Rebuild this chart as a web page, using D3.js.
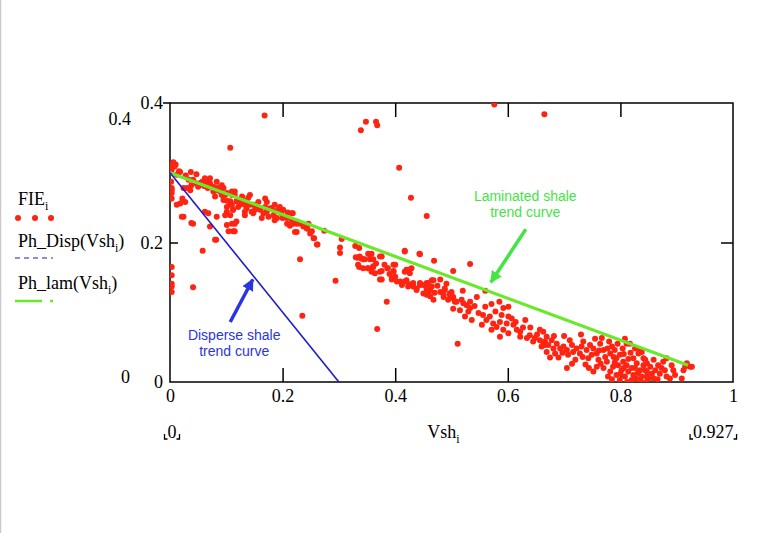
<!DOCTYPE html>
<html><head><meta charset="utf-8">
<script src="https://cdn.jsdelivr.net/npm/d3@7"></script>
<style>body{margin:0;background:#fff}svg{display:block}</style>
</head><body><svg id="c" width="768" height="533"></svg>
<script>
// ---------- data ----------
const xDomain = [0, 1];
const yDomain = [0, 0.4];
const xTicks = [0, 0.2, 0.4, 0.6, 0.8, 1];
const yTicks = [0, 0.2, 0.4];
const innerXTicks = [0.2, 0.4, 0.6, 0.8];
const innerYTicks = [0.2];
const xLimitLabels = ["0", "0.927"];
const yLimitLabels = ["0.4", "0"];
const xTitle = ["Vsh", "i"];

// FIE_i vs Vsh_i  [Vsh, FIE]
const fieData = [
 [0.168,0.382],[0.107,0.336],[0.339,0.361],[0.348,0.373],[0.366,0.373],[0.368,0.368],[0.407,0.307],[0.428,0.264],
 [0.576,0.398],[0.665,0.384],[0.456,0.238],[0.294,0.145],[0.235,0.095],[0.368,0.076],[0.511,0.055],[0.385,0.115],
 [0.231,0.176],[0.058,0.188],[0.041,0.136],[0.082,0.204],[0.038,0.228],
 [0.003,0.165],[0.003,0.153],[0.003,0.141],[0.003,0.137],[0.003,0.129],[0.003,0.311],[0.008,0.309],[0.003,0.304],
 [0.003,0.275],[0.003,0.271],[0.003,0.263],[0.002,0.287],[0.003,0.278],[0.006,0.315],[0.010,0.312],
 [0.021,0.237],[0.012,0.254],[0.018,0.256],[0.024,0.278],[0.037,0.301],[0.047,0.298],[0.018,0.301],[0.016,0.302],
 [0.024,0.237],[0.022,0.263],[0.027,0.258],[0.041,0.227],[0.030,0.278],[0.036,0.275],
 [0.033,0.290],[0.038,0.282],[0.046,0.285],[0.050,0.280],[0.057,0.287],[0.061,0.281],[0.068,0.290],[0.071,0.285],[0.067,0.278],
 [0.077,0.273],[0.086,0.275],[0.080,0.266],[0.092,0.268],[0.095,0.261],[0.101,0.271],[0.110,0.268],[0.115,0.273],[0.107,0.259],
 [0.118,0.259],[0.124,0.261],[0.110,0.254],[0.101,0.251],[0.121,0.251],[0.133,0.254],[0.142,0.268],[0.136,0.259],[0.148,0.254],
 [0.151,0.247],[0.157,0.249],[0.145,0.244],[0.133,0.244],[0.169,0.263],[0.169,0.251],[0.172,0.244],[0.181,0.249],[0.186,0.244],
 [0.195,0.251],[0.198,0.242],[0.186,0.232],[0.175,0.237],[0.163,0.235],[0.133,0.239],[0.112,0.247],[0.098,0.239],[0.101,0.225],
 [0.115,0.227],[0.104,0.216],[0.115,0.216],[0.083,0.237],[0.068,0.242],[0.062,0.244],[0.071,0.223],[0.080,0.204],
 [0.172,0.258],[0.178,0.249],[0.186,0.254],[0.192,0.247],[0.190,0.235],[0.184,0.239],[0.216,0.242],[0.219,0.227],[0.225,0.215],
 [0.243,0.220],[0.252,0.216],[0.255,0.206],[0.261,0.197],[0.237,0.223],[0.246,0.227],[0.216,0.232],[0.207,0.235],[0.160,0.247],
 [0.154,0.254],[0.142,0.254],[0.148,0.242],[0.166,0.242],[0.130,0.260],[0.136,0.249],[0.124,0.254],[0.115,0.268],[0.110,0.273],
 [0.101,0.260],[0.098,0.268],[0.089,0.273],[0.095,0.278],[0.107,0.254],[0.112,0.247],[0.101,0.244],[0.118,0.230],[0.110,0.227],
 [0.112,0.216],[0.107,0.239],[0.041,0.290],[0.053,0.285],[0.059,0.282],[0.065,0.287],[0.071,0.292],[0.077,0.280],[0.080,0.275],[0.086,0.279],
 [0.200,0.235],[0.218,0.242],[0.208,0.227],[0.213,0.224],[0.225,0.227],[0.231,0.227],[0.222,0.215],[0.244,0.220],[0.249,0.213],
 [0.256,0.206],[0.262,0.197],[0.274,0.217],[0.305,0.205],[0.302,0.193],[0.302,0.185],[0.329,0.195],[0.336,0.192],[0.330,0.179],
 [0.337,0.180],[0.334,0.168],[0.343,0.176],[0.352,0.184],[0.358,0.184],[0.355,0.176],[0.351,0.163],[0.361,0.166],[0.358,0.158],
 [0.376,0.180],[0.373,0.158],[0.376,0.147],[0.386,0.163],[0.400,0.168],[0.397,0.158],[0.394,0.149],[0.403,0.144],[0.417,0.187],
 [0.443,0.184],[0.420,0.161],[0.426,0.156],[0.429,0.163],[0.417,0.144],[0.423,0.137],[0.412,0.139],[0.432,0.142],[0.438,0.134],
 [0.444,0.139],[0.456,0.142],[0.456,0.132],[0.450,0.127],
 [0.333,0.178],[0.340,0.177],[0.346,0.176],[0.336,0.165],[0.343,0.163],[0.352,0.163],[0.361,0.165],[0.355,0.183],[0.361,0.176],
 [0.373,0.180],[0.364,0.156],[0.376,0.159],[0.373,0.147],[0.387,0.163],[0.397,0.168],[0.400,0.151],[0.394,0.147],[0.397,0.159],
 [0.409,0.144],[0.417,0.158],[0.423,0.161],[0.420,0.146],[0.426,0.140],[0.412,0.142],[0.432,0.137],[0.438,0.132],[0.444,0.142],
 [0.450,0.139],[0.456,0.134],[0.459,0.127],[0.465,0.137],[0.468,0.146],[0.462,0.123],[0.480,0.129],[0.486,0.122],[0.488,0.132],
 [0.497,0.125],[0.503,0.120],[0.500,0.129],[0.509,0.115],[0.417,0.188],[0.444,0.183],[0.469,0.174],[0.503,0.159],
 [0.533,0.169],[0.459,0.142],[0.465,0.146],[0.462,0.132],[0.456,0.125],[0.468,0.118],[0.480,0.147],[0.488,0.134],[0.486,0.125],
 [0.497,0.127],[0.503,0.122],[0.494,0.118],[0.506,0.115],[0.500,0.125],[0.520,0.131],[0.518,0.118],[0.521,0.113],[0.527,0.110],
 [0.515,0.103],[0.533,0.106],[0.530,0.101],[0.524,0.094],[0.536,0.089],[0.533,0.115],[0.503,0.105],[0.560,0.131],[0.571,0.112],
 [0.585,0.115],[0.560,0.108],[0.556,0.096],[0.562,0.089],[0.554,0.082],[0.568,0.094],[0.574,0.084],[0.571,0.075],[0.580,0.079],
 [0.586,0.086],[0.592,0.106],[0.601,0.108],[0.601,0.094],[0.598,0.084],[0.607,0.091],[0.610,0.082],[0.592,0.075],[0.586,0.065],
 [0.601,0.070],[0.616,0.075],[0.622,0.072],[0.622,0.065],[0.631,0.089],[0.634,0.063],[0.639,0.067],[0.645,0.058],[0.648,0.063],
 [0.657,0.060],[0.663,0.055],[0.669,0.065],[0.666,0.053],[0.657,0.075],
 [0.663,0.072],[0.666,0.058],[0.660,0.051],[0.672,0.053],[0.678,0.060],[0.681,0.048],[0.669,0.043],[0.687,0.055],[0.693,0.048],
 [0.684,0.041],[0.699,0.051],[0.705,0.046],[0.710,0.060],[0.714,0.053],[0.707,0.039],[0.716,0.043],[0.722,0.048],[0.728,0.041],
 [0.731,0.051],[0.734,0.058],[0.740,0.046],[0.746,0.053],[0.752,0.048],[0.749,0.039],[0.743,0.034],[0.758,0.041],[0.764,0.055],
 [0.767,0.063],[0.770,0.046],[0.773,0.036],[0.761,0.032],[0.776,0.029],[0.782,0.041],[0.785,0.051],[0.790,0.046],[0.793,0.034],
 [0.799,0.039],[0.796,0.024],[0.787,0.022],[0.805,0.029],[0.802,0.017],[0.811,0.024],[0.814,0.015],[0.808,0.008],[0.820,0.020],
 [0.823,0.010],[0.829,0.027],[0.832,0.041],[0.835,0.046],[0.817,0.055],[0.823,0.034],[0.835,0.017],[0.838,0.008],[0.841,0.024],
 [0.847,0.015],[0.844,0.032],[0.850,0.005],[0.793,0.010],[0.782,0.015],[0.770,0.020],[0.758,0.022],[0.752,0.015],[0.705,0.020],
 [0.799,0.003],[0.820,0.003],[0.835,0.003],[0.811,0.055],
 [0.838,0.043],[0.841,0.034],[0.847,0.027],[0.844,0.017],[0.853,0.022],[0.859,0.032],[0.862,0.017],[0.867,0.024],[0.870,0.012],
 [0.879,0.017],[0.876,0.029],[0.882,0.034],[0.891,0.024],[0.894,0.017],[0.897,0.010],[0.888,0.005],[0.912,0.017],[0.915,0.022],
 [0.924,0.022],[0.927,0.022],[0.918,0.027],[0.909,0.005],[0.882,0.008],[0.859,0.005],[0.847,0.008],
 [0.790,0.028],[0.806,0.040],[0.826,0.020],[0.814,0.033],[0.800,0.012],[0.828,0.005],[0.845,0.000],[0.812,0.000],[0.778,0.008],
 [0.765,0.026],[0.738,0.025],[0.720,0.032],[0.690,0.035],[0.675,0.035],[0.730,0.068],[0.700,0.066],[0.755,0.062],[0.780,0.058],
 [0.795,0.055],[0.808,0.062],
 [0.762,0.045],[0.777,0.048],[0.788,0.036],[0.804,0.048],[0.818,0.042],[0.826,0.048],[0.785,0.004],[0.806,0.020],[0.831,0.013],
 [0.856,0.012],[0.866,0.004],[0.873,0.020],[0.744,0.020],[0.733,0.036],[0.714,0.026],[0.697,0.042],[0.682,0.066],[0.652,0.068],
 [0.640,0.078],[0.627,0.078],[0.614,0.086],[0.548,0.099],[0.541,0.109],[0.545,0.122],[0.578,0.101],[0.589,0.096],[0.475,0.138],
 [0.491,0.141],[0.470,0.128],[0.366,0.170],[0.381,0.168],[0.390,0.155],[0.209,0.243],[0.201,0.247],[0.128,0.266],[0.139,0.264],
 [0.157,0.258],[0.092,0.282],[0.083,0.287],[0.062,0.292],[0.028,0.296],[0.012,0.297]
];

// trend curves  Ph_Disp(Vsh) and Ph_lam(Vsh)
const dispVsh = [0, 0.30];
const dispFie = [0.30, 0];
const lamVsh  = [0, 0.92];
const lamFie  = [0.30, 0.024];

const legendNames = [
  {main: "FIE", sub: "i", tail: ""},
  {main: "Ph_Disp(Vsh", sub: "i", tail: ")"},
  {main: "Ph_lam(Vsh", sub: "i", tail: ")"}
];
const annotations = [
  {lines: ["Disperse shale", "trend curve"], at: [0.114, 0.060], color: "#2a35e0",
   arrowFrom: [0.107, 0.086], arrowTo: [0.147, 0.147]},
  {lines: ["Laminated shale", "trend curve"], at: [0.631, 0.259], color: "#44e444",
   arrowFrom: [0.632, 0.219], arrowTo: [0.570, 0.143]}
];

// ---------- styles ----------
const RED = "#ff2412", BLUE = "#1c1ccc", GREEN = "#6ae82a";
const SERIF = "'Liberation Serif','Times New Roman',serif";
const SANS = "'Liberation Sans',Arial,sans-serif";
const FS = 18;

const svg = d3.select("#c");
svg.append("rect").attr("width",768).attr("height",533).attr("fill","#fff");
svg.append("line").attr("x1",0.5).attr("x2",0.5).attr("y1",0).attr("y2",533)
   .attr("stroke","#c9c9c9").attr("stroke-width",1.5);

const x = d3.scaleLinear().domain(xDomain).range([170, 733]);
const y = d3.scaleLinear().domain(yDomain).range([382, 103]);

const plot = svg.append("g");
svg.append("clipPath").attr("id","clip").append("rect")
   .attr("x",170).attr("y",103).attr("width",563).attr("height",279);

// axes
const styleAxis = g => {
  g.select(".domain").remove();
  g.selectAll(".tick line").attr("stroke","#000").attr("stroke-width",1.5);
  g.selectAll("text").attr("font-family",SERIF).attr("font-size",FS).attr("fill","#000");
};
plot.append("g").attr("transform",`translate(0,${y(0)})`)
  .call(d3.axisBottom(x).tickValues(xTicks).tickSize(0).tickPadding(7).tickFormat(d3.format("~g")))
  .call(styleAxis);
plot.append("g").attr("transform",`translate(0,${y(0)})`)
  .call(d3.axisBottom(x).tickValues(innerXTicks).tickSize(-14).tickFormat(""))
  .call(styleAxis);
plot.append("g").attr("transform",`translate(0,${y(0.4)})`)
  .call(d3.axisTop(x).tickValues(innerXTicks).tickSize(-14).tickFormat(""))
  .call(styleAxis);
plot.append("g").attr("transform",`translate(${x(0)},0)`)
  .call(d3.axisLeft(y).tickValues(yTicks).tickSize(0).tickPadding(7).tickFormat(d3.format("~g")))
  .call(styleAxis);
plot.append("g").attr("transform",`translate(${x(0)},0)`)
  .call(d3.axisLeft(y).tickValues(innerYTicks).tickSize(-8).tickFormat(""))
  .call(styleAxis);
plot.append("g").attr("transform",`translate(${x(1)},0)`)
  .call(d3.axisRight(y).tickValues(innerYTicks).tickSize(-12).tickFormat(""))
  .call(styleAxis);
plot.append("line").attr("x1",x(0)-7).attr("x2",x(0)).attr("y1",y(0.4)).attr("y2",y(0.4))
  .attr("stroke","#000").attr("stroke-width",1.5);

// frame
plot.append("rect").attr("x",x(0)).attr("y",y(0.4)).attr("width",x(1)-x(0)).attr("height",y(0)-y(0.4))
  .attr("fill","none").attr("stroke","#000").attr("stroke-width",1.5);

const data = plot.append("g").attr("clip-path","url(#clip)");

// scatter
data.selectAll("circle").data(fieData).join("circle")
  .attr("cx",d=>x(d[0])).attr("cy",d=>y(d[1])).attr("r",3).attr("fill",RED);

// curves (drawn over the points)
const lineGen = d3.line().x(d=>x(d[0])).y(d=>y(d[1]));
data.append("path").datum(lamVsh.map((v,i)=>[v,lamFie[i]])).attr("d",lineGen)
  .attr("fill","none").attr("stroke",GREEN).attr("stroke-width",3.2);
data.append("path").datum(dispVsh.map((v,i)=>[v,dispFie[i]])).attr("d",lineGen)
  .attr("fill","none").attr("stroke",BLUE).attr("stroke-width",1.6);

// annotations with arrows
const defs = svg.append("defs");
annotations.forEach((a,k)=>{
  defs.append("marker").attr("id","ah"+k).attr("viewBox","0 0 10 10").attr("refX",9).attr("refY",5)
    .attr("markerWidth",12).attr("markerHeight",12).attr("markerUnits","userSpaceOnUse").attr("orient","auto")
    .append("path").attr("d","M0,0L10,5L0,10Z").attr("fill",a.color);
  plot.append("line").attr("x1",x(a.arrowFrom[0])).attr("y1",y(a.arrowFrom[1]))
    .attr("x2",x(a.arrowTo[0])).attr("y2",y(a.arrowTo[1]))
    .attr("stroke",a.color).attr("stroke-width",3.5).attr("marker-end",`url(#ah${k})`);
  const t = plot.append("text").attr("font-family",SANS).attr("font-size",14).attr("fill",a.color)
    .attr("text-anchor","middle");
  a.lines.forEach((ln,i)=>t.append("tspan").attr("x",x(a.at[0])).attr("y",y(a.at[1])+i*16).text(ln));
});

// y limit labels (outside)
svg.append("text").attr("x",131).attr("y",y(0.4)+22).attr("text-anchor","end")
  .attr("font-family",SERIF).attr("font-size",FS).text(yLimitLabels[0]);
svg.append("text").attr("x",130).attr("y",y(0)+1).attr("text-anchor","end")
  .attr("font-family",SERIF).attr("font-size",FS).text(yLimitLabels[1]);

// x limit labels with corner marks
const limY = 438;
[[x(0)+2, xLimitLabels[0]], [x(0.965), xLimitLabels[1]]].forEach(([cx,lab])=>{
  const t = svg.append("text").attr("x",cx).attr("y",limY).attr("text-anchor","middle")
    .attr("font-family",SERIF).attr("font-size",FS).text(lab);
  const w = t.node().getComputedTextLength();
  const l = cx - w/2 - 3, r = cx + w/2 + 3;
  svg.append("path").attr("d",`M${l},${limY-4}V${limY+1}H${l+3}`).attr("stroke","#000").attr("fill","none").attr("stroke-width",1.3);
  svg.append("path").attr("d",`M${r},${limY-4}V${limY+1}H${r-3}`).attr("stroke","#000").attr("fill","none").attr("stroke-width",1.3);
});
const xt = svg.append("text").attr("x",x(0.5)-8).attr("y",limY).attr("text-anchor","middle")
  .attr("font-family",SERIF).attr("font-size",FS);
xt.append("tspan").text(xTitle[0]);
xt.append("tspan").attr("font-size",12).attr("dy",5).text(xTitle[1]);

// legend
const legY = [205, 247, 289];
legendNames.forEach((n,i)=>{
  const t = svg.append("text").attr("x",18).attr("y",legY[i]).attr("font-family",SERIF).attr("font-size",FS);
  t.append("tspan").text(n.main);
  t.append("tspan").attr("font-size",12).attr("dy",5).text(n.sub);
  if (n.tail) t.append("tspan").attr("dy",-5).text(n.tail);
});
svg.selectAll(".legdot").data([18,35,51]).join("circle").attr("class","legdot")
  .attr("cx",d=>d).attr("cy",218).attr("r",3).attr("fill",RED);
svg.append("line").attr("x1",15).attr("x2",53).attr("y1",258).attr("y2",258)
  .attr("stroke",BLUE).attr("stroke-width",1.2).attr("stroke-dasharray","5,4");
svg.append("line").attr("x1",15).attr("x2",54).attr("y1",301).attr("y2",301)
  .attr("stroke",GREEN).attr("stroke-width",2.5).attr("stroke-dasharray","27,8,3,10");
</script></body></html>
